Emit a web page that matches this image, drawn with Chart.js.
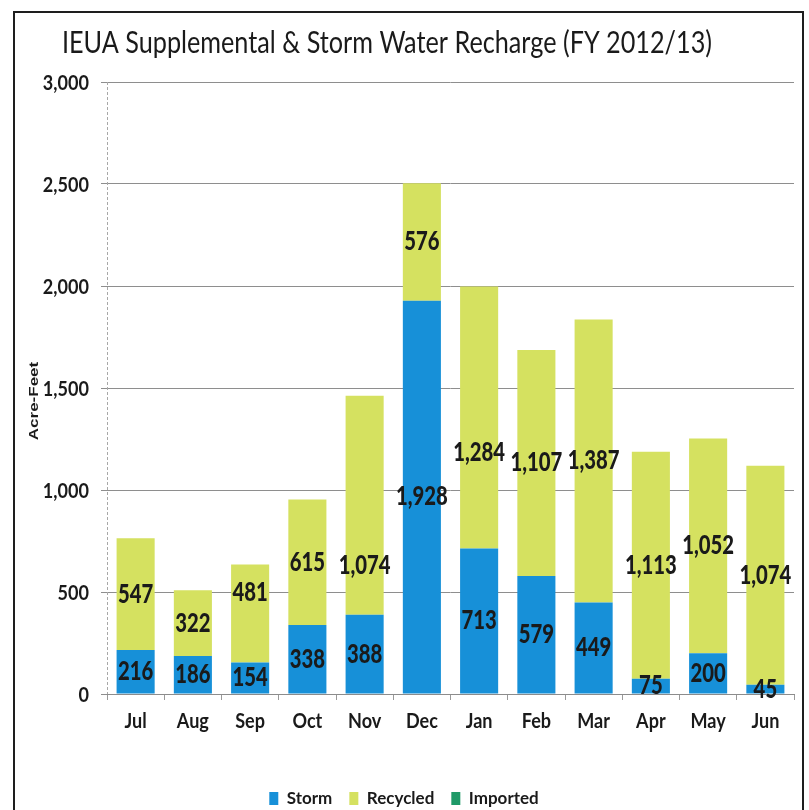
<!DOCTYPE html>
<html>
<head>
<meta charset="utf-8">
<script src="https://cdn.jsdelivr.net/npm/chart.js@4"></script>
<style>
  html, body { margin: 0; padding: 0; background: #fff; }
  #wrap { width: 809px; height: 810px; position: relative; }
</style>
</head>
<body>
<div id="wrap"><canvas id="chart" width="809" height="810"></canvas></div>
<script>
const months = ['Jul', 'Aug', 'Sep', 'Oct', 'Nov', 'Dec', 'Jan', 'Feb', 'Mar', 'Apr', 'May', 'Jun'];
const storm = [216, 186, 154, 338, 388, 1928, 713, 579, 449, 75, 200, 45];
const recycled = [547, 322, 481, 615, 1074, 576, 1284, 1107, 1387, 1113, 1052, 1074];
const imported = [0, 0, 0, 0, 0, 0, 0, 0, 0, 0, 0, 0];

const TITLE = 'IEUA Supplemental & Storm Water Recharge (FY 2012/13)';
const Y_TITLE = 'Acre-Feet';
const FONT = "Lato, 'Open Sans', sans-serif";
const INK = '#1a1a1a';

// text squeezed sideways, a stand-in for the narrow original face
function narrowText(c, text, x, y, align, sx) {
    c.save();
    c.translate(x, y);
    c.scale(sx, 1);
    c.textAlign = align;
    c.fillText(text, 0, 0);
    c.restore();
}

// white page + black frame
const framePlugin = {
    id: 'frame',
    beforeDraw(chart) {
        const c = chart.ctx;
        c.save();
        c.fillStyle = '#fff';
        c.fillRect(0, 0, chart.width, chart.height);
        c.strokeStyle = '#1e1e1e';
        c.lineWidth = 2;
        c.strokeRect(14, 12, 789, 820);
        c.restore();
    }
};

// title, axis title and tick labels (library computes the tick positions)
const textPlugin = {
    id: 'narrowTexts',
    afterDraw(chart) {
        const c = chart.ctx;
        c.save();
        c.fillStyle = INK;
        c.textBaseline = 'alphabetic';

        c.font = 'normal 30px ' + FONT;
        const w = c.measureText(TITLE).width;
        narrowText(c, TITLE, 387, 53, 'center', 650 / w);

        c.font = 'bold 21px ' + FONT;
        const ys = chart.scales.y;
        ys.ticks.forEach((t, i) => {
            narrowText(c, t.label, 89, ys.getPixelForTick(i) + 8, 'right', 0.86);
        });
        const xs = chart.scales.x;
        xs.ticks.forEach((t, i) => {
            narrowText(c, t.label, xs.getPixelForTick(i), 728, 'center', 0.86);
        });

        // rotated axis title, thinned across its height
        c.save();
        c.translate(38, 401);
        c.rotate(-Math.PI / 2);
        c.scale(1, 0.72);
        c.font = "bold 17px 'Liberation Sans', Arial, sans-serif";
        c.textAlign = 'center';
        c.fillText(Y_TITLE, 0, 0);
        c.restore();

        // light dashed value axis line
        c.strokeStyle = '#a8a8a8';
        c.lineWidth = 1;
        c.setLineDash([3, 2]);
        c.beginPath();
        c.moveTo(ys.right + 0.5, chart.chartArea.top);
        c.lineTo(ys.right + 0.5, chart.chartArea.bottom);
        c.stroke();

        c.restore();
    }
};

// value labels in the middle of each segment
const labelPlugin = {
    id: 'segLabels',
    afterDatasetsDraw(chart, args, opts) {
        const c = chart.ctx;
        c.save();
        c.font = opts.font;
        c.fillStyle = INK;
        c.textBaseline = 'middle';
        chart.data.datasets.forEach((ds, di) => {
            const meta = chart.getDatasetMeta(di);
            meta.data.forEach((bar, i) => {
                const v = ds.data[i];
                if (!v) return;
                const p = bar.getProps(['x', 'y', 'base'], true);
                const shift = opts.shift[di + ':' + i] || 0;
                narrowText(c, v.toLocaleString('en-US'), p.x, (p.y + p.base) / 2 + shift, 'center', 0.78);
            });
        });
        c.restore();
    }
};

new Chart(document.getElementById('chart'), {
    type: 'bar',
    data: {
        labels: months,
        datasets: [
            { label: 'Storm', data: storm, backgroundColor: '#1790d8' },
            { label: 'Recycled', data: recycled, backgroundColor: '#d5e160' },
            { label: 'Imported', data: imported, backgroundColor: '#1f9a68' }
        ]
    },
    options: {
        responsive: false,
        animation: false,
        devicePixelRatio: 1,
        categoryPercentage: 1,
        barPercentage: 0.665,
        layout: { padding: { left: 14, right: 15, top: 82, bottom: -7 } },
        plugins: {
            title: { display: false },
            legend: {
                position: 'bottom',
                labels: {
                    color: INK,
                    font: { family: FONT, size: 17, weight: 'bold' },
                    boxWidth: 9,
                    boxHeight: 13,
                    padding: 17
                }
            },
            tooltip: { enabled: false },
            segLabels: {
                font: '900 26px ' + FONT,
                shift: { '1:2': -21, '1:4': 60, '1:6': 35 }
            }
        },
        scales: {
            x: {
                stacked: true,
                grid: { drawOnChartArea: false, drawTicks: true, tickLength: 6, color: '#9a9a9a', offset: true },
                border: { color: '#8c8c8c' },
                ticks: { color: 'rgba(0,0,0,0)', font: { family: FONT, size: 21, weight: 'bold' }, padding: 9 },
                afterFit(scale) { scale.height = 79; }
            },
            y: {
                stacked: true,
                min: 0,
                max: 3000,
                ticks: {
                    stepSize: 500,
                    color: 'rgba(0,0,0,0)',
                    font: { family: FONT, size: 21, weight: 'bold' },
                    padding: 12,
                    callback: v => v.toLocaleString('en-US')
                },
                grid: { color: '#8e8e8e', tickLength: 6 },
                border: { display: false },
                afterFit(scale) { scale.width = 93; }
            }
        }
    },
    plugins: [framePlugin, labelPlugin, textPlugin]
});
</script>
</body>
</html>
